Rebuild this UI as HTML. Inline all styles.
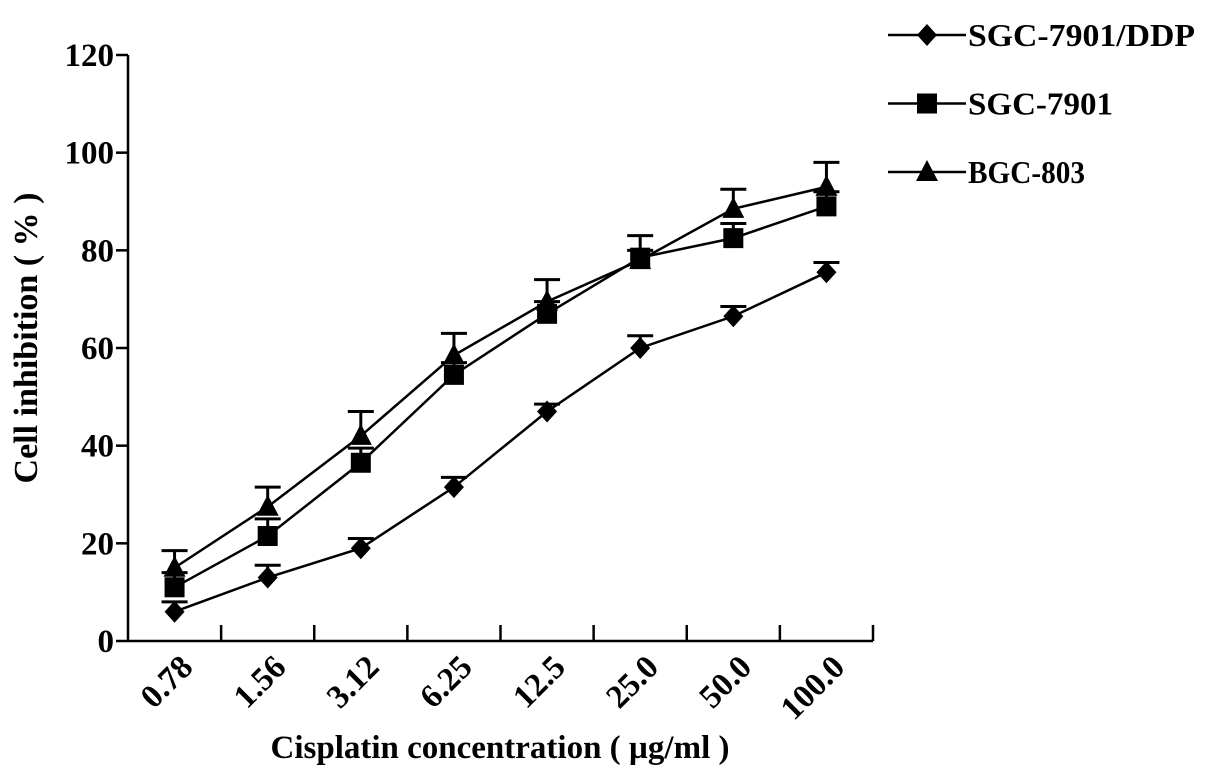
<!DOCTYPE html>
<html><head><meta charset="utf-8"><style>
body{margin:0;background:#fff}
svg text{font-family:"Liberation Serif",serif;font-weight:bold;fill:#000}
</style></head><body>
<svg id="chart" width="1205" height="777" viewBox="0 0 1205 777" xmlns="http://www.w3.org/2000/svg">
<g id="plot"></g>
<text transform="translate(37,338) rotate(-90)" text-anchor="middle" font-size="34">Cell inhibition ( % )</text>
<text x="500" y="758" text-anchor="middle" font-size="33">Cisplatin concentration ( µg/ml )</text>
</svg>
<script>
const categories=["0.78","1.56","3.12","6.25","12.5","25.0","50.0","100.0"];
const yTicks=[0,20,40,60,80,100,120];
const seriesNames=["SGC-7901/DDP","SGC-7901","BGC-803"];
const seriesMarkers=["diamond","square","triangle"];
const ddpValues=[6,13,19,31.5,47,60,66.5,75.5];
const ddpErr=[2,2.5,2,2,1.5,2.5,2,2];
const sgcValues=[11,21.5,36.5,54.5,67,78.5,82.5,89];
const sgcErr=[3,3.5,3,2.5,2.5,1.5,3,3];
const bgcValues=[15,27.5,42,58.5,69.5,78,88.5,93];
const bgcErr=[3.5,4,5,4.5,4.5,5,4,5];

const NS="http://www.w3.org/2000/svg";
const g=document.getElementById('plot');
const X0=128,X1=873,Y0=641,YTOP=55,YMAX=120;
const band=(X1-X0)/categories.length;
const xs=i=>X0+band*(i+0.5);
const ys=v=>Y0-(v/YMAX)*(Y0-YTOP);
function mk(tag,attrs,parent){const e=document.createElementNS(NS,tag);for(const k in attrs)e.setAttribute(k,attrs[k]);(parent||g).appendChild(e);return e;}
function marker(type,cx,cy,parent){
  let e;
  if(type==="diamond") e=mk('polygon',{points:`${cx},${cy-11} ${cx+10},${cy} ${cx},${cy+11} ${cx-10},${cy}`,fill:'#000'},parent);
  else if(type==="square") e=mk('rect',{x:cx-10,y:cy-10,width:20,height:20,fill:'#000'},parent);
  else e=mk('polygon',{points:`${cx},${cy-12} ${cx+11},${cy+9} ${cx-11},${cy+9}`,fill:'#000'},parent);
  return e;
}
const ax=mk('line',{x1:X0,y1:YTOP,x2:X0,y2:Y0,stroke:'#000','stroke-width':2.5});


const axx=mk('line',{x1:X0,y1:Y0,x2:X1,y2:Y0,stroke:'#000','stroke-width':2.5});


yTicks.forEach(v=>{
  const y=ys(v);
  const t=mk('line',{x1:X0-12,y1:y,x2:X0,y2:y,stroke:'#000','stroke-width':2.5});
  
  
  const l=mk('text',{x:X0-14,y:y+11,'text-anchor':'end','font-size':33});
  l.textContent=v;
  
  
});
for(let i=1;i<=categories.length;i++){
  const x=X0+band*i;
  const t=mk('line',{x1:x,y1:Y0-16,x2:x,y2:Y0,stroke:'#000','stroke-width':2.5});
  
  
}
categories.forEach((c,i)=>{
  const x=xs(i)+20,y=Y0+28;
  const l=mk('text',{x:x,y:y,'text-anchor':'end','font-size':33,transform:`rotate(-45 ${x} ${y})`});
  l.textContent=c;
  
  
});
const all=[[ddpValues,ddpErr],[sgcValues,sgcErr],[bgcValues,bgcErr]];
all.forEach(([vals,errs],s)=>{
  const sg=mk('g',{});
  
  
  const pts=vals.map((v,i)=>`${xs(i)},${ys(v)}`).join(' ');
  const pl=mk('polyline',{points:pts,fill:'none',stroke:'#000','stroke-width':2.5},sg);
  
  
  vals.forEach((v,i)=>{
    const x=xs(i),yt=ys(v+errs[i]);
    const e1=mk('line',{x1:x,y1:ys(v),x2:x,y2:yt,stroke:'#000','stroke-width':3},sg);
    
    
    const e2=mk('line',{x1:x-13,y1:yt,x2:x+13,y2:yt,stroke:'#000','stroke-width':3},sg);
    
    
    const m=marker(seriesMarkers[s],x,ys(v),sg);
    
    
  });
});
const svg=document.getElementById('chart');
const lg=mk('g',{},svg);


seriesNames.forEach((n,s)=>{
  const y=35+s*68.5;
  const eg=mk('g',{},lg);
  
  
  mk('line',{x1:888,y1:y,x2:966,y2:y,stroke:'#000','stroke-width':2.5},eg);
  marker(seriesMarkers[s],927,y,eg);
  const t=mk('text',{x:968,y:y+11,'font-size':32,textLength:s===0?227:(s===1?145:117),lengthAdjust:'spacingAndGlyphs'},eg);
  t.textContent=n;
});
</script>
</body></html>
